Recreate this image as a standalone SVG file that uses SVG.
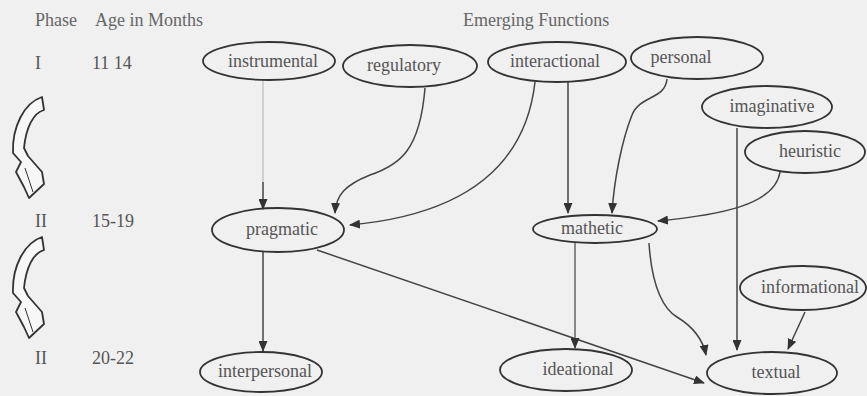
<svg xmlns="http://www.w3.org/2000/svg" width="867" height="396" viewBox="0 0 867 396">
<style>
text{font-family:"Liberation Serif","Times New Roman",serif;fill:#555;font-size:18px}
.hd{fill:#666}
.lbl{text-anchor:middle}
ellipse{fill:none;stroke:#333;stroke-width:1.8}
.c{fill:none;stroke:#444;stroke-width:1.5;marker-end:url(#ah)}
.faint{fill:none;stroke:#bbb;stroke-width:1.2}
.rib{fill:#f7f7f7;stroke:#333;stroke-width:1.8;stroke-linejoin:round}
</style>
<defs>
<marker id="ah" markerUnits="userSpaceOnUse" markerWidth="11" markerHeight="9" refX="10" refY="4.5" orient="auto">
<path d="M0,0 L11,4.5 L0,9 Z" fill="#333"/>
</marker>
<g id="ribbon">
<path class="rib" d="M42,97 L44,110 C33,113 26,128 24,148 L28,156 L42,172 L44,184 L29,198 L24,187 L16,172 L21,162 L13,153 C12,127 24,103 42,97 Z"/>
<path d="M25,168 L33,192" fill="none" stroke="#333" stroke-width="1"/>
</g>
</defs>
<rect width="867" height="396" fill="#f0f0f0"/>

<g id="header">
<text class="hd" x="35" y="26">Phase</text>
<text class="hd" x="95" y="26">Age in Months</text>
<text class="hd" x="463" y="26">Emerging Functions</text>
</g>
<g id="rows">
<text x="35" y="69">I</text><text x="92" y="69">11 14</text>
<text x="35" y="227">II</text><text x="92" y="227">15-19</text>
<text x="35" y="364">II</text><text x="92" y="364">20-22</text>
<use href="#ribbon"/>
<use href="#ribbon" transform="translate(0,140)"/>
</g>

<g id="connectors">
<line class="faint" x1="263" y1="80" x2="263" y2="182"/>
<path class="c" d="M263,182 L263,209"/>
<path class="c" d="M425,88 C420,150 400,165 370,175 C345,185 336,195 335,213"/>
<path class="c" d="M535,82 C525,170 460,215 350,225"/>
<path class="c" d="M568,82 L568,213"/>
<path class="c" d="M667,79 C665,100 640,95 632,115 C622,140 614,180 612,213"/>
<path class="c" d="M737,128 L737,350"/>
<path class="c" d="M780,172 C775,205 720,215 658,221"/>
<path class="c" d="M263,252 L263,351"/>
<path class="c" d="M317,250 L704,383"/>
<path class="c" d="M575,243 L575,348" style="stroke:#666"/>
<path class="c" d="M649,243 C652,290 665,310 677,317 C695,328 703,340 706,355"/>
<path class="c" d="M805,312 L788,349"/>
</g>

<g id="instrumental"><ellipse cx="269" cy="61" rx="66" ry="19"/><text class="lbl" x="273" y="67">instrumental</text></g>
<g id="regulatory"><ellipse cx="410" cy="66" rx="67" ry="21"/><text class="lbl" x="404" y="71">regulatory</text></g>
<g id="interactional"><ellipse cx="557" cy="62" rx="69" ry="20"/><text class="lbl" x="555" y="67">interactional</text></g>
<g id="personal"><ellipse cx="697" cy="58" rx="66" ry="21"/><text class="lbl" x="681" y="63">personal</text></g>
<g id="imaginative"><ellipse cx="767" cy="107" rx="65" ry="21"/><text class="lbl" x="772" y="112">imaginative</text></g>
<g id="heuristic"><ellipse cx="805" cy="152" rx="60" ry="21"/><text class="lbl" x="810" y="157">heuristic</text></g>
<g id="pragmatic"><ellipse cx="278" cy="230" rx="66" ry="22"/><text class="lbl" x="282" y="235">pragmatic</text></g>
<g id="mathetic"><ellipse cx="595" cy="229" rx="62" ry="14"/><text class="lbl" x="592" y="234">mathetic</text></g>
<g id="informational"><ellipse cx="803" cy="288" rx="63" ry="22"/><text class="lbl" x="810" y="293">informational</text></g>
<g id="interpersonal"><ellipse cx="261" cy="372" rx="61" ry="20"/><text class="lbl" x="265" y="377">interpersonal</text></g>
<g id="ideational"><ellipse cx="566" cy="370" rx="66" ry="21"/><text class="lbl" x="578" y="375">ideational</text></g>
<g id="textual"><ellipse cx="772" cy="373" rx="65" ry="21"/><text class="lbl" x="776" y="378">textual</text></g>
</svg>
